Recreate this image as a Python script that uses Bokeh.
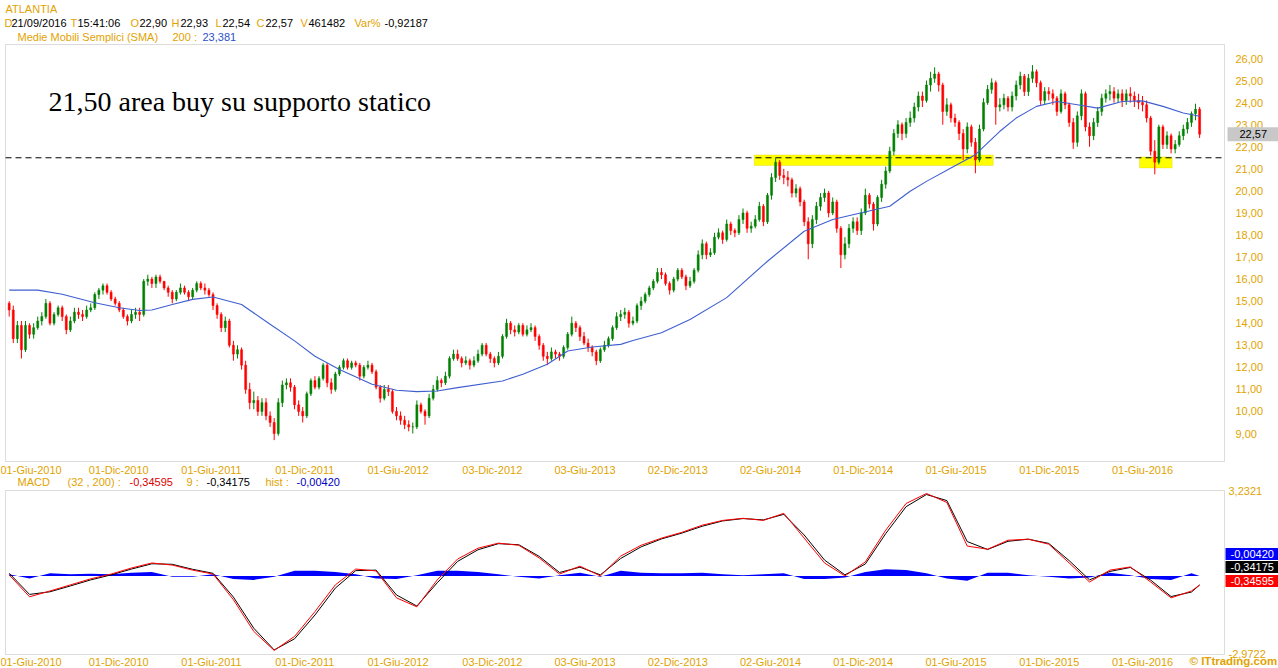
import pandas as pd
from bokeh.plotting import figure
from bokeh.models import BoxAnnotation, Label, Range1d
from bokeh.embed import file_html
from bokeh.resources import INLINE

# ---------------- data ----------------
last_date = "2016-09-21"
first_open = 14.9
close = [
    14.6, 13.3, 13.9, 12.8, 13.9, 13.5, 13.8, 14.1, 14.3, 14.9,
    14.0, 14.4, 14.7, 14.3, 13.7, 14.1, 14.5, 14.4, 14.3, 14.6,
    14.7, 15.3, 15.5, 15.7, 15.4, 15.1, 14.9, 14.6, 14.3, 14.1,
    14.4, 14.5, 14.4, 15.9, 16.0, 15.8, 16.1, 15.9, 15.6, 15.4,
    15.1, 15.4, 15.6, 15.4, 15.2, 15.5, 15.8, 15.6, 15.5, 15.3,
    14.8, 14.4, 13.8, 14.1, 13.0, 12.6, 12.8, 12.1, 11.0, 10.4,
    10.5, 10.0, 10.4, 9.8, 9.5, 9.0, 10.4, 11.2, 11.3, 11.1,
    10.3, 10.0, 9.8, 10.8, 11.4, 11.1, 11.5, 12.1, 11.3, 11.0,
    11.7, 12.0, 12.3, 12.0, 12.2, 12.1, 11.6, 12.0, 12.1, 11.8,
    11.1, 10.6, 11.0, 10.9, 10.0, 9.8, 9.6, 9.4, 9.3, 9.3,
    10.3, 10.0, 9.8, 10.6, 11.0, 11.4, 11.3, 11.6, 12.4, 12.6,
    12.4, 12.2, 12.3, 12.1, 12.3, 12.6, 13.0, 12.6, 12.4, 12.2,
    12.5, 13.4, 14.0, 13.7, 13.6, 13.9, 13.5, 13.7, 13.8, 13.4,
    13.0, 12.5, 12.4, 12.7, 12.6, 12.5, 12.9, 13.5, 14.0, 13.8,
    13.4, 13.1, 12.9, 12.7, 12.3, 12.8, 13.0, 13.3, 13.8, 14.3,
    14.4, 14.5, 14.0, 14.1, 14.8, 15.0, 15.3, 15.6, 15.9, 16.3,
    16.2, 15.8, 15.5, 16.0, 16.4, 16.1, 15.7, 15.9, 16.4, 17.1,
    17.6, 17.1, 17.2, 17.9, 18.1, 17.8, 18.5, 18.2, 18.1, 18.7,
    19.0, 18.3, 18.4, 18.7, 19.3, 18.6, 19.8, 20.6, 21.3, 20.7,
    20.6, 20.5, 19.9, 20.1, 19.5, 18.6, 17.6, 18.7, 19.3, 19.7,
    19.9, 19.0, 19.5, 18.3, 17.1, 17.6, 18.3, 18.6, 18.2, 19.0,
    19.8, 19.4, 18.5, 19.7, 20.3, 20.9, 21.8, 22.6, 23.0, 22.6,
    23.1, 23.3, 23.8, 24.3, 24.1, 24.8, 25.1, 25.3, 24.8, 23.6,
    23.9, 23.3, 23.1, 22.6, 21.9, 22.9, 22.2, 21.4, 22.8, 24.0,
    24.6, 24.9, 23.8, 23.9, 24.2, 23.8, 24.3, 24.8, 25.2, 24.5,
    25.1, 25.4, 24.9, 24.1, 24.5, 24.4, 24.2, 23.6, 24.4, 23.9,
    23.1, 22.2, 23.4, 24.4, 22.9, 22.5, 23.1, 23.6, 24.2, 24.4,
    24.5, 24.2, 24.4, 24.1, 24.4, 24.3, 24.1, 24.0, 23.9, 23.3,
    21.8, 21.3, 22.9, 22.1, 22.5, 21.9, 22.1, 22.5, 22.8, 23.1,
    23.5, 23.7, 22.57,
]
high = [
    15.0, 14.8, 14.1, 14.1, 14.1, 14.0, 14.0, 14.3, 14.5, 15.1,
    15.0, 14.5, 14.8, 14.8, 14.4, 14.3, 14.7, 14.7, 14.6, 14.8,
    14.9, 15.4, 15.6, 15.8, 15.8, 15.5, 15.2, 15.0, 14.7, 14.4,
    14.6, 14.7, 14.7, 16.0, 16.2, 16.1, 16.2, 16.2, 15.9, 15.7,
    15.5, 15.5, 15.8, 15.7, 15.5, 15.6, 15.9, 15.9, 15.8, 15.6,
    15.4, 14.9, 14.5, 14.3, 14.2, 13.2, 13.0, 12.9, 12.3, 11.3,
    10.9, 10.7, 10.6, 10.6, 10.0, 9.7, 10.6, 11.4, 11.5, 11.5,
    11.2, 10.5, 10.2, 10.9, 11.5, 11.6, 11.6, 12.2, 12.2, 11.5,
    11.8, 12.1, 12.4, 12.4, 12.3, 12.3, 12.2, 12.1, 12.3, 12.2,
    11.9, 11.2, 11.2, 11.2, 11.0, 10.2, 10.0, 9.8, 9.6, 9.5,
    10.5, 10.4, 10.1, 10.8, 11.2, 11.6, 11.5, 11.8, 12.5, 12.8,
    12.8, 12.5, 12.5, 12.4, 12.5, 12.8, 13.1, 13.1, 12.7, 12.5,
    12.7, 13.5, 14.2, 14.1, 13.9, 14.0, 14.0, 13.9, 14.0, 13.9,
    13.5, 13.1, 12.7, 12.9, 12.8, 12.7, 13.0, 13.6, 14.3, 14.1,
    13.9, 13.6, 13.3, 13.0, 12.8, 12.9, 13.2, 13.4, 13.9, 14.5,
    14.6, 14.7, 14.6, 14.3, 14.9, 15.2, 15.4, 15.7, 16.0, 16.5,
    16.5, 16.3, 15.9, 16.1, 16.5, 16.5, 16.2, 16.1, 16.5, 17.3,
    17.8, 17.7, 17.4, 18.1, 18.3, 18.2, 18.7, 18.6, 18.3, 18.9,
    19.2, 19.1, 18.6, 18.9, 19.5, 19.4, 19.9, 20.8, 21.5, 21.4,
    21.0, 20.9, 20.6, 20.3, 20.2, 19.6, 18.8, 18.9, 19.5, 19.9,
    20.1, 20.0, 19.7, 19.6, 18.4, 17.9, 18.5, 18.8, 18.8, 19.2,
    20.1, 19.9, 19.5, 19.8, 20.5, 21.1, 22.0, 22.8, 23.2, 23.1,
    23.3, 23.6, 24.0, 24.5, 24.5, 25.0, 25.4, 25.6, 25.4, 24.9,
    24.2, 24.0, 23.5, 23.2, 22.8, 23.1, 23.0, 22.4, 23.0, 24.2,
    24.8, 25.1, 25.0, 24.2, 24.4, 24.3, 24.5, 25.0, 25.4, 25.3,
    25.3, 25.7, 25.5, 25.0, 24.7, 24.7, 24.6, 24.3, 24.6, 24.5,
    24.0, 23.3, 23.6, 24.6, 24.5, 23.1, 23.3, 23.8, 24.4, 24.6,
    24.8, 24.7, 24.6, 24.6, 24.6, 24.7, 24.5, 24.4, 24.3, 24.1,
    23.4, 22.3, 23.0, 23.0, 22.7, 22.6, 22.3, 22.7, 23.0, 23.3,
    23.6, 23.95, 23.8,
]
low = [
    14.3, 13.1, 13.1, 12.4, 12.7, 13.3, 13.3, 13.7, 13.9, 14.2,
    13.9, 13.9, 14.3, 14.1, 13.5, 13.6, 14.0, 14.2, 14.1, 14.2,
    14.5, 14.6, 15.1, 15.3, 15.3, 15.0, 14.8, 14.5, 14.2, 13.9,
    14.0, 14.2, 14.1, 14.3, 15.7, 15.6, 15.6, 15.8, 15.5, 15.2,
    14.9, 15.0, 15.3, 15.3, 15.0, 15.1, 15.4, 15.5, 15.3, 15.2,
    14.6, 14.2, 13.6, 13.6, 12.9, 12.3, 12.4, 11.9, 10.8, 10.1,
    10.1, 9.8, 9.8, 9.6, 9.3, 8.7, 8.9, 10.2, 11.0, 10.9,
    10.1, 9.8, 9.5, 9.7, 10.7, 11.0, 11.0, 11.4, 11.1, 10.8,
    10.9, 11.6, 11.9, 11.9, 11.9, 12.0, 11.4, 11.5, 11.9, 11.7,
    11.0, 10.4, 10.5, 10.7, 9.9, 9.6, 9.4, 9.2, 9.1, 9.0,
    9.2, 9.9, 9.4, 9.7, 10.5, 10.9, 11.1, 11.2, 11.5, 12.3,
    12.3, 12.0, 12.1, 11.9, 12.0, 12.2, 12.5, 12.5, 12.2, 12.0,
    12.1, 12.4, 13.3, 13.5, 13.4, 13.5, 13.4, 13.4, 13.6, 13.2,
    12.8, 12.3, 12.1, 12.3, 12.4, 12.3, 12.4, 12.8, 13.4, 13.6,
    13.2, 13.0, 12.7, 12.5, 12.1, 12.2, 12.7, 12.9, 13.2, 13.7,
    14.1, 14.2, 13.8, 13.9, 14.0, 14.6, 14.9, 15.2, 15.5, 15.8,
    16.0, 15.7, 15.3, 15.4, 15.9, 16.0, 15.5, 15.6, 15.8, 16.3,
    16.9, 16.9, 17.0, 17.1, 17.8, 17.6, 17.7, 18.0, 17.9, 18.0,
    18.5, 18.1, 18.1, 18.3, 18.6, 18.4, 18.5, 19.6, 20.4, 20.5,
    20.3, 20.2, 19.7, 19.7, 19.3, 18.4, 16.9, 17.4, 18.5, 19.1,
    19.5, 18.8, 18.9, 18.1, 16.5, 16.9, 17.4, 18.1, 18.0, 18.0,
    18.9, 19.2, 18.2, 18.4, 19.5, 20.1, 20.8, 21.6, 22.4, 22.3,
    22.4, 22.9, 23.1, 23.6, 23.8, 24.0, 24.5, 24.9, 24.5, 23.0,
    23.4, 23.1, 22.9, 22.3, 21.4, 21.7, 22.0, 20.8, 21.3, 22.7,
    23.9, 24.4, 23.0, 23.6, 23.7, 23.6, 23.6, 24.1, 24.6, 24.3,
    24.3, 24.9, 24.7, 23.9, 23.9, 24.1, 23.9, 23.4, 23.5, 23.7,
    22.9, 21.9, 22.0, 23.2, 22.7, 22.0, 22.3, 22.9, 23.4, 24.0,
    24.1, 24.0, 24.0, 23.8, 23.9, 24.0, 23.8, 23.7, 23.6, 23.1,
    21.6, 20.75, 21.2, 21.9, 21.9, 21.7, 21.7, 22.0, 22.3, 22.6,
    22.9, 23.2, 22.4,
]
sma_bar = [0, 7, 13, 21, 27, 32, 35, 40, 45, 50, 57, 64, 70, 75, 81, 89, 95, 100,
           105, 110, 121, 126, 132, 137, 143, 150, 153, 160, 167, 176, 186, 195,
           202, 208, 216, 221, 225, 231, 237, 243, 247, 252, 257, 262, 267, 273,
           278, 283, 288, 292]
sma200 = [15.5, 15.5, 15.31, 14.93, 14.7, 14.58, 14.6, 14.85, 15.08, 15.19, 14.85,
          13.95, 13.2, 12.5, 11.9, 11.23, 10.96, 10.9, 10.93, 11.08, 11.38, 11.69,
          12.14, 12.74, 12.92, 13.04, 13.22, 13.57, 14.17, 15.16, 16.81, 18.17,
          18.7, 18.96, 19.3, 19.98, 20.43, 21.04, 21.64, 22.7, 23.3, 23.83, 24.05,
          23.9, 23.75, 24.05, 24.08, 23.83, 23.53, 23.38]
macd = [0.04, -0.79, -0.57, -0.34, -0.11, 0.07, 0.30, 0.49, 0.41, 0.22, 0.07, -0.90,
        -2.10, -2.82, -2.29, -1.35, -0.34, 0.26, 0.19, -0.83, -1.17, -0.15, 0.64,
        1.05, 1.24, 1.16, 0.68, 0.07, 0.37, 0.00, 0.75, 1.16, 1.43, 1.65, 1.92, 2.10,
        2.18, 2.10, 2.37, 1.43, 0.49, 0.00, 0.53, 1.73, 2.74, 3.12, 2.78, 1.13, 1.01,
        1.35, 1.39, 1.20, 0.49, -0.23, 0.22, 0.34, -0.23, -0.83, -0.57, -0.34595]
signal = [0.10, -0.70, -0.60, -0.38, -0.15, 0.04, 0.26, 0.46, 0.44, 0.25, 0.10, -0.80,
          -1.98, -2.80, -2.38, -1.48, -0.46, 0.20, 0.22, -0.72, -1.14, -0.26, 0.55,
          0.99, 1.22, 1.18, 0.74, 0.13, 0.33, 0.04, 0.66, 1.10, 1.40, 1.62, 1.88, 2.08,
          2.17, 2.12, 2.33, 1.55, 0.60, 0.04, 0.45, 1.60, 2.62, 3.08, 2.85, 1.30, 1.00,
          1.31, 1.39, 1.23, 0.58, -0.15, 0.17, 0.32, -0.16, -0.78, -0.61, -0.34175]
hist = [0.06, -0.1, 0.1, 0.06, 0.08, 0.06, 0.12, 0.15, -0.03, -0.03, 0.06, -0.12, -0.15,
        -0.03, 0.2, 0.2, 0.15, 0.06, -0.1, -0.12, 0.03, 0.2, 0.2, 0.15, 0.06, -0.03,
        -0.1, 0.03, 0.12, -0.03, 0.2, 0.12, 0.1, 0.1, 0.12, 0.06, 0.03, 0.06, 0.1, -0.12,
        -0.12, -0.06, 0.15, 0.25, 0.22, 0.1, -0.1, -0.18, 0.12, 0.12, 0.03, -0.03, -0.1,
        -0.06, 0.12, 0.03, -0.12, -0.15, 0.1, -0.0042]
tick_dates = ["2010-06-01", "2010-12-01", "2011-06-01", "2011-12-01", "2012-06-01",
              "2012-12-03", "2013-06-03", "2013-12-02", "2014-06-02", "2014-12-01",
              "2015-06-01", "2015-12-01", "2016-06-01"]
tick_labels = ["01-Giu-2010", "01-Dic-2010", "01-Giu-2011", "01-Dic-2011", "01-Giu-2012",
               "03-Dic-2012", "03-Giu-2013", "02-Dic-2013", "02-Giu-2014", "01-Dic-2014",
               "01-Giu-2015", "01-Dic-2015", "01-Giu-2016"]
price_ticks = list(range(9, 27))
macd_ticks = [3.2321, -2.9722]
macd_tick_labels = ["3,2321", "-2,9722"]
support_level = 21.50
support_boxes = [("2014-05-01", "2015-08-13", 21.15, 21.63),
                 ("2016-05-26", "2016-07-29", 21.04, 21.54)]
# ---------------------------------------------------------------

W, H = 1278, 668
ORANGE = "#E2A300"
FONT = "Liberation Sans"
BAR_DAYS = 8

dates = pd.date_range(end=last_date, periods=len(close), freq=f"{BAR_DAYS}D")
t0 = dates[0]


def day(ds):
    return (pd.Timestamp(ds) - t0).days


xd = [(d - t0).days for d in dates]
opens = [first_open] + close[:-1]
top = [max(o, c) for o, c in zip(opens, close)]
bot = [min(o, c) for o, c in zip(opens, close)]
col = ["#008000" if c >= o else "#FF0000" for o, c in zip(opens, close)]
sma_x = [BAR_DAYS * k for k in sma_bar]
macd_bar = list(range(0, 291, 5)) + [292]
mx = [BAR_DAYS * k for k in macd_bar]
tx = [day(d) for d in tick_dates]

# screen calibration of the two panels (canvas pixels)
J0 = day("2010-06-01")


def d_at(px):
    return J0 + (px - 25) / 0.5096


def price_at(py):
    return 26 - (py - 58) / 22.06


def macd_at(py):
    return 3.2321 - (py - 490) / 26.43


p = figure(width=W, height=H, x_range=Range1d(d_at(0), d_at(W)),
           y_range=Range1d(price_at(H), price_at(0)),
           x_axis_location=None, y_axis_location=None, min_border=0,
           output_backend="svg", toolbar_location=None)
p.extra_y_ranges = {"macd": Range1d(macd_at(H), macd_at(0))}
p.grid.visible = False
p.outline_line_color = None
p.background_fill_color = "white"
p.border_fill_color = "white"


def txt(x, y, s, color, size="11px", font=FONT, style_="normal", align="left",
        xu="canvas", yu="canvas", **kw):
    p.add_layout(Label(x=x, y=y, x_units=xu, y_units=yu, text=s, text_color=color,
                       text_font=font, text_font_size=size, text_font_style=style_,
                       text_baseline="middle", text_align=align, **kw))


# yellow support areas and support line
for a, b, lo, hi in support_boxes:
    p.add_layout(BoxAnnotation(left=day(a), right=day(b), bottom=lo, top=hi,
                               fill_color="#FFFF00", fill_alpha=1, line_color="#D8C400",
                               line_width=1, level="underlay"))
p.segment(x0=[d_at(5)], x1=[d_at(1224)], y0=[support_level], y1=[support_level],
          line_color="black", line_width=1, line_dash="6 4")

# candles
p.segment(x0=xd, x1=xd, y0=low, y1=high, line_color=col, line_width=1)
p.vbar(x=xd, bottom=bot, top=top, width=4, fill_color=col, line_color=col,
       line_width=0.5)
p.line(sma_x, sma200, line_color="#3F5FD0", line_width=1.1)

# MACD panel
p.varea(x=mx, y1=[0] * len(mx), y2=hist, fill_color="#0000FF", y_range_name="macd")
p.line(mx, signal, line_color="black", line_width=1, y_range_name="macd")
p.line(mx, macd, line_color="#FF0000", line_width=1, y_range_name="macd")

# panel frames
for top_px, bot_px in [(44, 461), (490, 654)]:
    p.add_layout(BoxAnnotation(left=d_at(5), right=d_at(1224), top=price_at(top_px),
                               bottom=price_at(bot_px), fill_alpha=0,
                               line_color="#8C8C8C", line_width=1))

# axis labels
for i, (t, s) in enumerate(zip(tx, tick_labels)):
    if i == 0:
        txt(0, 469, s, ORANGE)
        txt(0, 661, s, ORANGE)
    else:
        txt(t, 469, s, ORANGE, align="center", xu="data")
        txt(t, 661, s, ORANGE, align="center", xu="data")
for v in price_ticks:
    txt(1235, v, f"{v},00", ORANGE, yu="data")
for v, s in zip(macd_ticks, macd_tick_labels):
    txt(1228, v, s, ORANGE, yu="data", y_range_name="macd")

# annotation
txt(48, 101, "21,50 area buy su supporto statico", "black", size="28px",
    font="Liberation Serif")

# last value boxes (x = left edge of box, padding = (horizontal, vertical))
txt(1227, close[-1], "22,57", "black", yu="data", background_fill_color="#C8C8C8",
    padding=(12, 3))
for s, y, bg in [("-0,00420", 553.5, "#0000FF"), ("-0,34175", 566.5, "black"),
                 ("-0,34595", 580.5, "#FF0000")]:
    txt(1225, y, s, "white", background_fill_color=bg, padding=(5, 2))

# header
txt(5, 8, "ATLANTIA", ORANGE)
row2 = [("D", 4, ORANGE), ("21/09/2016", 11, "black"), ("T", 70, ORANGE),
        ("15:41:06", 77, "black"), ("O", 130, ORANGE), ("22,90", 139, "black"),
        ("H", 171, ORANGE), ("22,93", 180, "black"), ("L", 215, ORANGE),
        ("22,54", 222, "black"), ("C", 256, ORANGE), ("22,57", 265, "black"),
        ("V", 300, ORANGE), ("461482", 308, "black"), ("Var%", 354, ORANGE),
        ("-0,92187", 384, "black")]
for s, x, c in row2:
    txt(x, 22, s, c)
txt(17, 36, "Medie Mobili Semplici (SMA)", ORANGE)
txt(172, 36, "200 :", ORANGE)
txt(202, 36, "23,381", "#2B50C8")

row_m = [("MACD", 17, ORANGE), ("(32 , 200) :", 67, ORANGE), ("-0,34595", 129, "#E00000"),
         ("9 :", 186, ORANGE), ("-0,34175", 206, "black"), ("hist :", 265, ORANGE),
         ("-0,00420", 296, "#0000C0")]
for s, x, c in row_m:
    txt(x, 481, s, c)
txt(1189, 660, "\u00a9 ITtrading.com", ORANGE, size="11.5px", style_="bold")

open("out.html", "w").write(file_html(p, INLINE))
